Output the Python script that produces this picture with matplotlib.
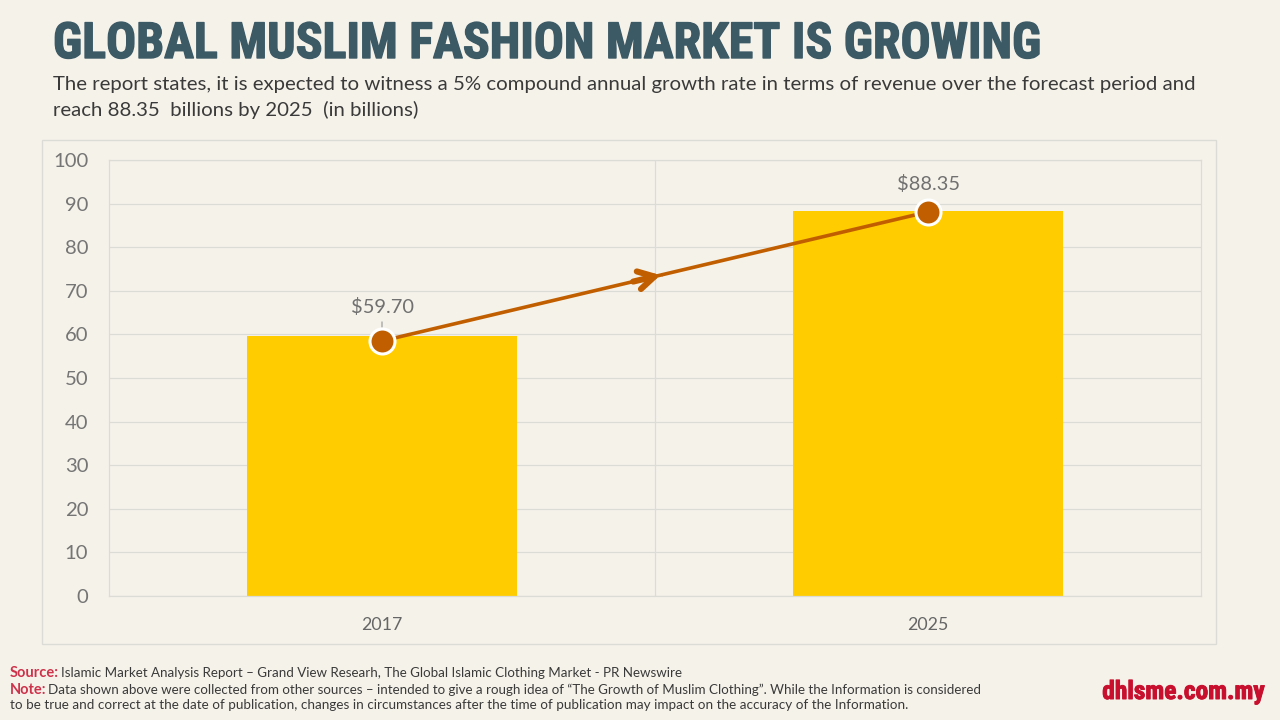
import numpy as np
import matplotlib
matplotlib.use('Agg')
import matplotlib.pyplot as plt
import matplotlib.patheffects as pe
from matplotlib import font_manager
from matplotlib.patches import Rectangle

# chart values
years = ['2017', '2025']
market_size = [59.70, 88.35]
bar_labels = ['$59.70', '$88.35']
# the dots sit a little under the bar tops in the original
dot_values = [58.5, 88.1]
y_ticks = [0, 10, 20, 30, 40, 50, 60, 70, 80, 90, 100]

title = 'GLOBAL MUSLIM FASHION MARKET IS GROWING'
subtitle = ['The report states, it is expected to witness a 5% compound annual growth rate in terms of revenue over the forecast period and',
            'reach 88.35  billions by 2025  (in billions)']
source_text = 'Islamic Market Analysis Report \u2013 Grand View Researh, The Global Islamic Clothing Market - PR Newswire'
note_text = ['Data shown above were collected from other sources \u2013 intended to give a rough idea of \u201cThe Growth of Muslim Clothing\u201d. While the Information is considered',
             'to be true and correct at the date of publication, changes in circumstances after the time of publication may impact on the accuracy of the Information.']

BG = '#f5f2ea'
GRID = '#dcdcd6'
TEAL = '#3c5a66'
YELLOW = '#ffcc00'
ORANGE = '#c15f00'
RED = '#c8102e'
W, H = 1280, 720

installed = {f.name for f in font_manager.fontManager.ttflist}
narrow = next((n for n in ['Roboto Condensed', 'Open Sans Condensed', 'Noto Sans Condensed', 'Roboto', 'Lato']
               if n in installed), 'Lato')


def px(x, y):
    # pixel position from the top left to figure fraction
    return x / W, 1 - y / H


def fit_width(text, target):
    # scale the font so the text spans the same width as the original
    r = fig.canvas.get_renderer()
    text.set_fontsize(text.get_fontsize() * target / text.get_window_extent(r).width)


fig = plt.figure(figsize=(12.8, 7.2), dpi=100, facecolor=BG)

# panel behind the chart
panel = Rectangle(px(42, 644), 1174 / W, 504 / H, transform=fig.transFigure,
                  facecolor='none', edgecolor=GRID, linewidth=1, zorder=-1)
fig.patches.append(panel)

ax = fig.add_axes([109 / W, 1 - 596 / H, 1092 / W, 436 / H], facecolor=BG)
x = np.arange(len(years))
ax.bar(x, market_size, width=0.493, color=YELLOW, zorder=2)
ax.set_xlim(-0.5, 1.5)
ax.set_ylim(0, 100)
ax.set_xticks(x)
ax.set_xticklabels(years, fontsize=12.8, color='#666666', family='Lato')
ax.set_yticks(y_ticks)
ax.set_yticklabels([str(v) for v in y_ticks], fontsize=14.6, color='#757575', family='Lato')
ax.tick_params(length=0)
ax.tick_params(axis='x', pad=15)
ax.tick_params(axis='y', pad=15)
ax.grid(axis='y', color=GRID, linewidth=0.9, zorder=1)
ax.axvline(0.5, color=GRID, linewidth=0.9, zorder=1)
for s in ax.spines.values():
    s.set_color(GRID)
    s.set_linewidth(0.9)

# trend line, broken just after the chevron half way
mid_x = 0.51
gap = 0.005
mid_y = np.interp(mid_x, x, dot_values)
gap_y = np.interp(mid_x + gap, x, dot_values)
ax.plot([x[0], mid_x], [dot_values[0], mid_y], color=ORANGE, linewidth=2.6, zorder=3)
ax.plot([mid_x + gap, x[1]], [gap_y, dot_values[1]], color=ORANGE, linewidth=2.6, zorder=3)
ax.annotate('', xy=(mid_x, mid_y), xytext=(mid_x - 0.05, mid_y - 0.05 * (dot_values[1] - dot_values[0])),
            arrowprops=dict(arrowstyle='->,head_length=1.15,head_width=0.65', color=ORANGE, lw=4.4,
                            shrinkA=0, shrinkB=0), zorder=4)
ax.plot(x, dot_values, 'o', markersize=18, markerfacecolor=ORANGE, markeredgecolor='white',
        markeredgewidth=2.2, zorder=5, linestyle='none')

label_offsets = [18.2, 13.8]
for i, label in enumerate(bar_labels):
    ax.annotate(label, (x[i], dot_values[i]), xytext=(0, label_offsets[i]), textcoords='offset points',
                ha='center', va='bottom', fontsize=14.4, color='#707070', family='Lato')

# short leader line under the first label
ax.annotate('', xy=(x[0], market_size[0]), xytext=(0, 10), textcoords='offset points',
            arrowprops=dict(arrowstyle='-', color='#888888', lw=0.7, shrinkA=0, shrinkB=6), zorder=3)

# header
title_text = fig.text(*px(53, 58), title, fontsize=30, fontweight='bold', color=TEAL,
                      family=narrow, va='baseline',
                      path_effects=[pe.withStroke(linewidth=1.0, foreground=TEAL)])
fit_width(title_text, 987)
sub1 = fig.text(*px(53, 90), subtitle[0], fontsize=14.3, color='#3a3a3a', family='Lato', va='baseline')
fit_width(sub1, 1144)
sub2 = fig.text(*px(53, 116), subtitle[1], fontsize=sub1.get_fontsize(), color='#3a3a3a', family='Lato', va='baseline')

# footer
fig.text(*px(10, 677), 'Source:', fontsize=10.5, color=RED, family='Lato', va='baseline', fontweight='bold', alpha=0.85)
fig.text(*px(61, 677), source_text, fontsize=9.62, color='#3a3a3a', family='Lato', va='baseline')
fig.text(*px(10, 694), 'Note:', fontsize=10.5, color=RED, family='Lato', va='baseline', fontweight='bold', alpha=0.85)
fig.text(*px(48, 694), note_text[0], fontsize=9.6, color='#3a3a3a', family='Lato', va='baseline')
fig.text(*px(10, 709), note_text[1], fontsize=9.7, color='#3a3a3a', family='Lato', va='baseline')
site = fig.text(*px(1264, 699), 'dhlsme.com.my', fontsize=16, fontweight='bold', color=RED,
                family=narrow, ha='right', va='baseline',
                path_effects=[pe.withStroke(linewidth=0.7, foreground=RED)])
fit_width(site, 162)

fig.savefig('out.png', dpi=100, facecolor=BG)
